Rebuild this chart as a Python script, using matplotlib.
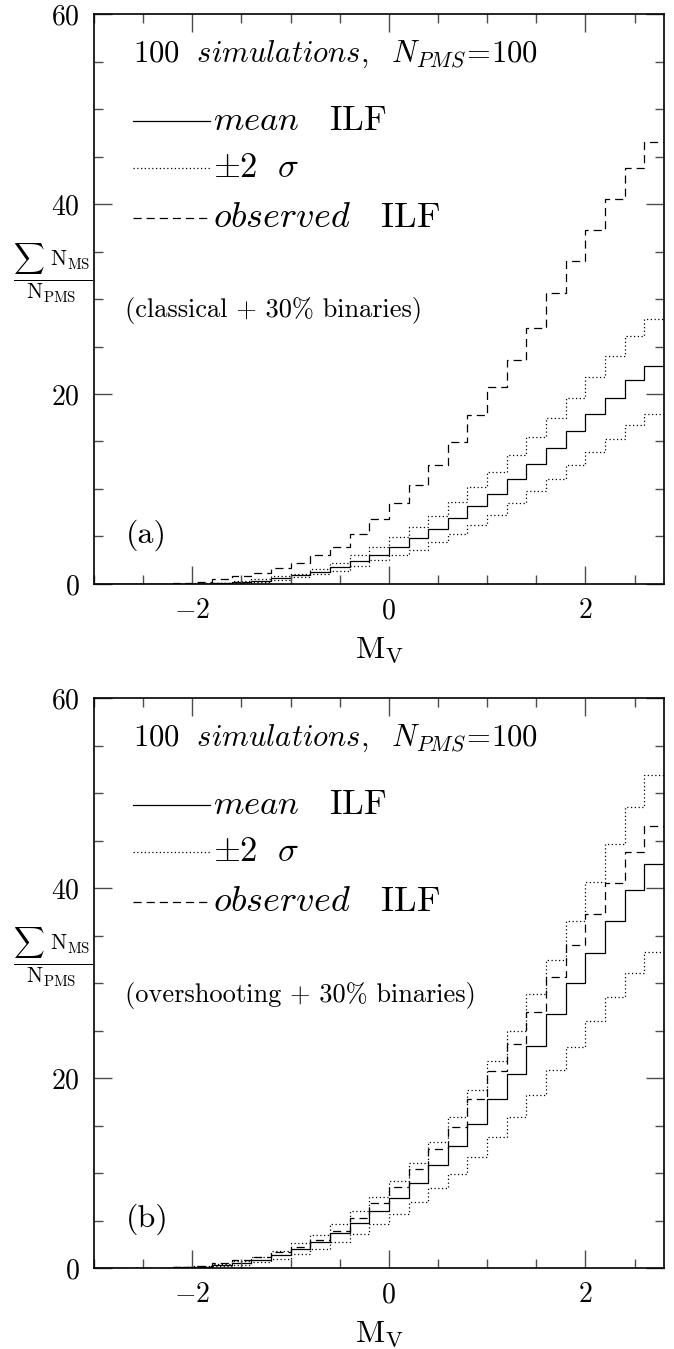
import numpy as np
import matplotlib
matplotlib.use('Agg')
import matplotlib.pyplot as plt
from matplotlib.ticker import MultipleLocator

plt.rcParams['font.family'] = 'serif'
plt.rcParams['font.serif'] = ['cmr10']
plt.rcParams['mathtext.fontset'] = 'cm'
plt.rcParams['axes.formatter.use_mathtext'] = True

# bin edges in M_V (0.2 mag bins)
mv_edges = [-3.0, -2.8, -2.6, -2.4, -2.2, -2.0, -1.8, -1.6, -1.4, -1.2, -1.0,
            -0.8, -0.6, -0.4, -0.2, 0.0, 0.2, 0.4, 0.6, 0.8, 1.0,
            1.2, 1.4, 1.6, 1.8, 2.0, 2.2, 2.4, 2.6, 2.8]

# observed ILF (same in both panels)
observed = [0, 0, 0.02, 0.05, 0.1, 0.25, 0.5, 0.8, 1.2, 1.7, 2.2, 3.0, 3.9, 5.3, 6.8,
            8.5, 10.4, 12.5, 14.9, 17.8, 20.7, 23.6, 27.0, 30.6, 34.0, 37.3, 40.5, 43.8, 46.5]

# (a) classical + 30% binaries
mean_a = [0, 0, 0, 0.01, 0.02, 0.03, 0.07, 0.18, 0.3, 0.6, 0.9, 1.3, 1.8, 2.4, 3.1,
          3.9, 4.8, 5.8, 6.9, 8.2, 9.5, 11.0, 12.6, 14.3, 16.1, 17.9, 19.6, 21.5, 22.9]
upper_a = [0, 0, 0, 0.02, 0.04, 0.07, 0.14, 0.3, 0.5, 0.8, 1.1, 1.6, 2.2, 3.0, 3.9,
           4.9, 6.0, 7.2, 8.6, 10.2, 11.8, 13.6, 15.5, 17.5, 19.6, 21.8, 24.0, 26.1, 27.9]
lower_a = [0, 0, 0, 0.01, 0.02, 0.03, 0.07, 0.14, 0.25, 0.4, 0.7, 1.0, 1.4, 1.9, 2.5,
           3.0, 3.6, 4.4, 5.3, 6.2, 7.3, 8.5, 9.8, 11.1, 12.5, 13.9, 15.3, 16.7, 17.9]

# (b) overshooting + 30% binaries
mean_b = [0, 0, 0, 0.03, 0.07, 0.15, 0.3, 0.5, 0.9, 1.4, 2.0, 2.75, 3.7, 4.75, 6.0,
          7.4, 9.0, 10.8, 12.9, 15.2, 17.8, 20.4, 23.4, 26.7, 30.0, 33.2, 36.5, 39.8, 42.5]
upper_b = [0, 0, 0, 0.05, 0.1, 0.2, 0.4, 0.7, 1.2, 1.8, 2.6, 3.5, 4.6, 6.0, 7.5,
           9.2, 11.1, 13.3, 15.9, 18.7, 21.8, 25.0, 28.8, 32.4, 36.5, 40.6, 44.6, 48.5, 51.9]
lower_b = [0, 0, 0, 0.02, 0.05, 0.1, 0.2, 0.35, 0.6, 1.0, 1.5, 2.0, 2.7, 3.6, 4.6,
           5.7, 7.0, 8.4, 9.9, 11.7, 13.8, 15.9, 18.2, 20.8, 23.3, 26.0, 28.5, 31.1, 33.3]

x_ticks = [-2, 0, 2]
x_ticklabels = [r'$-2$', r'$0$', r'$2$']
y_ticks = [0, 20, 40, 60]
y_ticklabels = [r'$0$', r'$20$', r'$40$', r'$60$']

dotted = (0, (1.0, 2.0))
dashed = (0, (6.5, 4.0))


def draw_panel(ax, mean, upper, lower, model, tag):
    ax.stairs(observed, mv_edges, baseline=None, color='k', lw=0.9, ls=dashed)
    ax.stairs(upper, mv_edges, baseline=None, color='k', lw=0.9, ls=dotted)
    ax.stairs(lower, mv_edges, baseline=None, color='k', lw=0.9, ls=dotted)
    ax.stairs(mean, mv_edges, baseline=None, color='k', lw=0.9)

    ax.set_xlim(-3.0, 2.8)
    ax.set_ylim(0, 60)
    ax.set_xticks(x_ticks)
    ax.set_xticklabels(x_ticklabels)
    ax.set_yticks(y_ticks)
    ax.set_yticklabels(y_ticklabels)
    ax.xaxis.set_minor_locator(MultipleLocator(0.5))
    ax.yaxis.set_minor_locator(MultipleLocator(5))
    ax.tick_params(which='both', direction='in', top=True, right=True,
                   labelsize=20, pad=10, color='0.3')
    ax.tick_params(which='major', length=13, width=1.0)
    ax.tick_params(which='minor', length=6.5, width=1.0)
    for s in ax.spines.values():
        s.set_linewidth(1.2)

    ax.set_xlabel(r'$\mathrm{M_V}$', fontsize=23, labelpad=8)
    ax.text(-0.073, 0.546, r'$\frac{\sum\ \mathrm{N_{MS}}}{\mathrm{N_{PMS}}}$',
            transform=ax.transAxes, fontsize=22, ha='center', va='center')

    # key
    tr = ax.transAxes
    ax.text(0.068, 0.93, r'$100\ \ simulations,\ \ N_{PMS}\!=\!100$', transform=tr,
            fontsize=22, ha='left', va='center')
    ax.plot([0.068, 0.2035], [0.812, 0.812], transform=tr, color='k', lw=0.9)
    ax.plot([0.068, 0.2035], [0.730, 0.730], transform=tr, color='k', lw=0.9, ls=dotted)
    ax.plot([0.068, 0.2035], [0.642, 0.642], transform=tr, color='k', lw=0.9, ls=dashed)
    ax.text(0.209, 0.812, r'$mean\ \ \ \mathrm{ILF}$', transform=tr, fontsize=25,
            ha='left', va='center')
    ax.text(0.209, 0.730, r'$\pm2\ \ \sigma$', transform=tr, fontsize=25,
            ha='left', va='center')
    ax.text(0.209, 0.642, r'$observed\ \ \ \mathrm{ILF}$', transform=tr, fontsize=26,
            ha='left', va='center')
    ax.text(0.054, 0.479, model, transform=tr, fontsize=19, ha='left', va='center')
    ax.text(0.056, 0.085, tag, transform=tr, fontsize=23, ha='left', va='center')


fig = plt.figure(figsize=(6.74, 13.49), dpi=100)
ax_a = fig.add_axes([0.1395, 0.5671, 0.8457, 0.4225])
ax_b = fig.add_axes([0.1395, 0.0600, 0.8457, 0.4225])

draw_panel(ax_a, mean_a, upper_a, lower_a, '(classical + 30% binaries)', '(a)')
draw_panel(ax_b, mean_b, upper_b, lower_b, '(overshooting + 30% binaries)', '(b)')

fig.savefig('out.png', dpi=100)
